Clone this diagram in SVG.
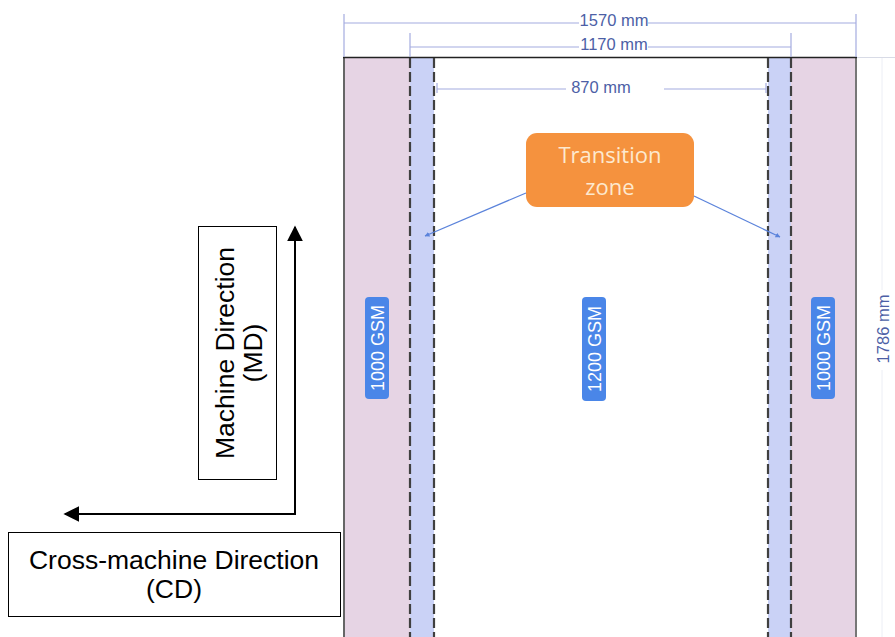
<svg xmlns="http://www.w3.org/2000/svg" width="895" height="637" viewBox="0 0 895 637">
<defs>
<marker id="ah" viewBox="0 0 10 10" refX="9" refY="5" markerWidth="16" markerHeight="16" markerUnits="userSpaceOnUse" orient="auto"><path d="M0,0 L10,5 L0,10 z" fill="#000"/></marker>
<marker id="sm" viewBox="0 0 10 10" refX="9" refY="5" markerWidth="5" markerHeight="5" markerUnits="userSpaceOnUse" orient="auto"><path d="M0,0 L10,5 L0,10 z" fill="#5b83db"/></marker>
<style>
.dim{stroke:#a4acdf;stroke-width:1.2;fill:none}
.dimt{font-family:"Liberation Sans",Arial,sans-serif;font-size:16.5px;fill:#4d5fa6;text-anchor:middle}
.dash{stroke:#404040;stroke-width:2.2;stroke-dasharray:10 4;fill:none}
.gsm{fill:#4a86e8}
.gsmt{font-family:"Liberation Sans",Arial,sans-serif;font-size:18px;fill:#fff;text-anchor:middle}
.box{fill:#fff;stroke:#000;stroke-width:1}
.lbl{font-family:"Liberation Sans",Arial,sans-serif;font-size:26.5px;fill:#000;text-anchor:middle}
.conn{stroke:#5b83db;stroke-width:1.3;fill:none}
</style>
</defs>
<rect width="895" height="637" fill="#fff"/>

<g id="sheet">
<rect x="344" y="57" width="66" height="590" fill="#e6d4e4"/>
<rect x="791" y="57" width="65" height="590" fill="#e6d4e4"/>
<rect x="410" y="57" width="24" height="590" fill="#cad2f6"/>
<rect x="768" y="57" width="23" height="590" fill="#cad2f6"/>
<line x1="344" y1="57" x2="344" y2="637" stroke="#666" stroke-width="2"/>
<line x1="856" y1="57" x2="856" y2="637" stroke="#777" stroke-width="2"/>
<line x1="343" y1="57.5" x2="857" y2="57.5" stroke="#222" stroke-width="1.5"/>
<line class="dash" x1="410" y1="58" x2="410" y2="637"/>
<line class="dash" x1="434" y1="58" x2="434" y2="637"/>
<line class="dash" x1="768" y1="58" x2="768" y2="637"/>
<line class="dash" x1="791" y1="58" x2="791" y2="637"/>
</g>

<g id="dimensions">
<line class="dim" x1="344" y1="14" x2="344" y2="57"/>
<line class="dim" x1="856" y1="14" x2="856" y2="57"/>
<line class="dim" x1="344" y1="23" x2="579" y2="23"/>
<line class="dim" x1="648" y1="23" x2="856" y2="23"/>
<text class="dimt" x="614" y="26">1570 mm</text>
<line class="dim" x1="410" y1="33" x2="410" y2="57"/>
<line class="dim" x1="791" y1="33" x2="791" y2="57"/>
<line class="dim" x1="410" y1="47" x2="579" y2="47"/>
<line class="dim" x1="648" y1="47" x2="791" y2="47"/>
<text class="dimt" x="614" y="50">1170 mm</text>
<line class="dim" x1="437" y1="83" x2="437" y2="93"/>
<line class="dim" x1="766" y1="83" x2="766" y2="93"/>
<line class="dim" x1="437" y1="89" x2="566" y2="89"/>
<line class="dim" x1="664" y1="89" x2="766" y2="89"/>
<text class="dimt" x="601" y="93">870 mm</text>
<line x1="857" y1="57.5" x2="895" y2="57.5" stroke="#d8dbe6" stroke-width="1"/>
<line x1="882" y1="58" x2="882" y2="290" stroke="#eceef5" stroke-width="1"/>
<line x1="882" y1="370" x2="882" y2="637" stroke="#eceef5" stroke-width="1"/>
<text class="dimt" transform="translate(889,329) rotate(-90)">1786 mm</text>
</g>

<g id="label-left">
<rect class="gsm" x="365" y="297" width="24" height="102" rx="4"/>
<text class="gsmt" transform="translate(383.5,348) rotate(-90)">1000 GSM</text>
</g>
<g id="label-center">
<rect class="gsm" x="582" y="297" width="24" height="104" rx="4"/>
<text class="gsmt" transform="translate(600.5,349) rotate(-90)">1200 GSM</text>
</g>
<g id="label-right">
<rect class="gsm" x="811" y="297" width="24" height="102" rx="4"/>
<text class="gsmt" transform="translate(829.5,348) rotate(-90)">1000 GSM</text>
</g>

<g id="transition-zone">
<rect x="526" y="133" width="168" height="74" rx="11" fill="#f5923e"/>
<text x="610" y="163" font-family="'Open Sans',Lato,sans-serif" font-size="22" fill="#fde9cf" text-anchor="middle">Transition</text>
<text x="610" y="195" font-family="'Open Sans',Lato,sans-serif" font-size="22" fill="#fde9cf" text-anchor="middle">zone</text>
</g>

<g id="md-label">
<rect class="box" x="198.5" y="226.5" width="78" height="253"/>
<text class="lbl" transform="translate(237,353) rotate(-90)"><tspan x="0" y="-3">Machine Direction</tspan><tspan x="0" y="25">(MD)</tspan></text>
</g>

<g id="cd-label">
<rect class="box" x="8.5" y="532.5" width="332" height="84"/>
<text class="lbl" x="174" y="569">Cross-machine Direction<tspan x="174" y="598">(CD)</tspan></text>
</g>

<g id="connectors">
<line class="conn" x1="526" y1="193" x2="425" y2="236" marker-end="url(#sm)"/>
<line class="conn" x1="694" y1="196" x2="780" y2="237" marker-end="url(#sm)"/>
<line x1="295" y1="515" x2="295" y2="227" stroke="#000" stroke-width="2" marker-end="url(#ah)"/>
<line x1="296" y1="514" x2="65" y2="514" stroke="#000" stroke-width="2" marker-end="url(#ah)"/>
</g>
</svg>
